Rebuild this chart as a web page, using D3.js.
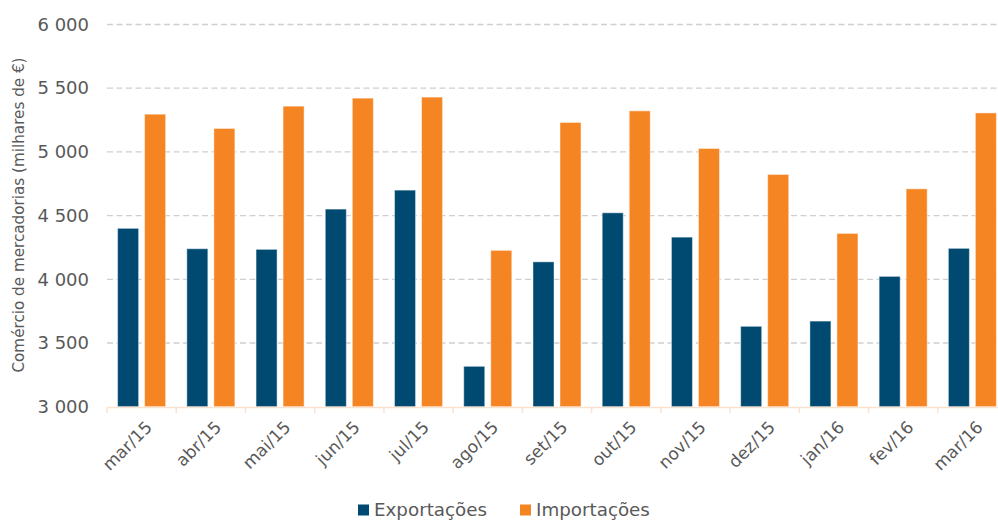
<!DOCTYPE html>
<html>
<head>
<meta charset="utf-8">
<script src="https://cdn.jsdelivr.net/npm/d3@7"></script>
<style>
  html, body { margin: 0; padding: 0; background: #fff; }
  svg { display: block; font-family: "DejaVu Sans", Verdana, sans-serif; }
</style>
</head>
<body>
<svg id="chart" width="998" height="521"></svg>
<script>
// Monthly trade in goods (thousand €)
const months = ["mar/15","abr/15","mai/15","jun/15","jul/15","ago/15","set/15","out/15","nov/15","dez/15","jan/16","fev/16","mar/16"];
const exportacoes = [4400, 4240, 4235, 4551, 4700, 3317, 4137, 4522, 4331, 3631, 3672, 4023, 4243];
const importacoes = [5296, 5184, 5359, 5422, 5430, 4227, 5231, 5322, 5027, 4823, 4360, 4710, 5306];
const yTicks = [3000, 3500, 4000, 4500, 5000, 5500, 6000];
const seriesNames = ["Exportações", "Importações"];
const seriesColors = ["#004a72", "#f58523"];

const svg = d3.select("#chart");
const plotLeft = 107, plotRight = 1007, plotTop = 24.5, plotBottom = 406.7;
const textColor = "#595959";

const x = d3.scaleBand().domain(months).range([plotLeft, plotRight]).paddingInner(0).paddingOuter(0);
const inner = d3.scaleBand().domain([0, 1]).range([0, x.bandwidth()]).paddingInner(0.222).paddingOuter(0.392);
const y = d3.scaleLinear().domain([3000, 6000]).range([plotBottom, plotTop]);

// gridlines
svg.append("g")
  .selectAll("line")
  .data(yTicks.filter(d => d > 3000))
  .join("line")
  .attr("x1", plotLeft).attr("x2", 998)
  .attr("y1", d => y(d)).attr("y2", d => y(d))
  .attr("stroke", "#cfcfcf")
  .attr("stroke-width", 1.3)
  .attr("stroke-dasharray", "6,3.5");

// y-axis labels
const yAxis = d3.axisLeft(y).tickValues(yTicks).tickSize(0).tickPadding(0)
  .tickFormat(d => d3.format(",")(d).replace(",", " "));
const yg = svg.append("g").attr("transform", `translate(${plotLeft - 18},0)`).call(yAxis);
yg.select(".domain").remove();
yg.selectAll("text")
  .attr("fill", textColor)
  .attr("font-size", "18px")
  .attr("font-family", "DejaVu Sans, Verdana, sans-serif");

// y-axis title
svg.append("text")
  .attr("transform", "translate(24,215) rotate(-90)")
  .attr("text-anchor", "middle")
  .attr("fill", textColor)
  .attr("font-size", "15.2px")
  .text("Comércio de mercadorias (milhares de €)");

// bars
const series = [exportacoes, importacoes];
series.forEach((vals, si) => {
  svg.append("g")
    .selectAll("rect")
    .data(vals.map((v, i) => ({ m: months[i], v })))
    .join("rect")
    .attr("x", d => x(d.m) + inner(si))
    .attr("width", inner.bandwidth())
    .attr("y", d => y(d.v))
    .attr("height", d => y(3000) - y(d.v))
    .attr("fill", seriesColors[si])
    .attr("stroke", "#ffffff")
    .attr("stroke-opacity", 0.45)
    .attr("stroke-width", 1);
});

// x axis line and ticks
const xg = svg.append("g").attr("transform", `translate(0,${plotBottom + 0.8})`);
xg.append("line")
  .attr("x1", plotLeft).attr("x2", plotRight)
  .attr("stroke", "#fbe2d0").attr("stroke-width", 1.5);
xg.selectAll("line.tick")
  .data(months.map(m => x(m)).concat([plotRight]))
  .join("line")
  .attr("class", "tick")
  .attr("x1", d => d).attr("x2", d => d)
  .attr("y1", 0).attr("y2", 5.5)
  .attr("stroke", "#fbe2d0").attr("stroke-width", 1.5);

// x labels, rotated
svg.append("g")
  .selectAll("text")
  .data(months)
  .join("text")
  .attr("transform", d => `translate(${x(d) + x.bandwidth() / 2 + 3},${plotBottom + 13}) rotate(-45)`)
  .attr("text-anchor", "end")
  .attr("dy", "0.71em")
  .attr("fill", textColor)
  .attr("font-size", "17px")
  .text(d => d);

// legend
const legendItems = [
  { name: seriesNames[0], color: seriesColors[0], x: 358 },
  { name: seriesNames[1], color: seriesColors[1], x: 520 }
];
const lg = svg.append("g");
legendItems.forEach(it => {
  lg.append("rect")
    .attr("x", it.x).attr("y", 504.5)
    .attr("width", 11).attr("height", 11)
    .attr("fill", it.color);
  lg.append("text")
    .attr("x", it.x + 16).attr("y", 516)
    .attr("fill", textColor)
    .attr("font-size", "18.3px")
    .text(it.name);
});
</script>
</body>
</html>
